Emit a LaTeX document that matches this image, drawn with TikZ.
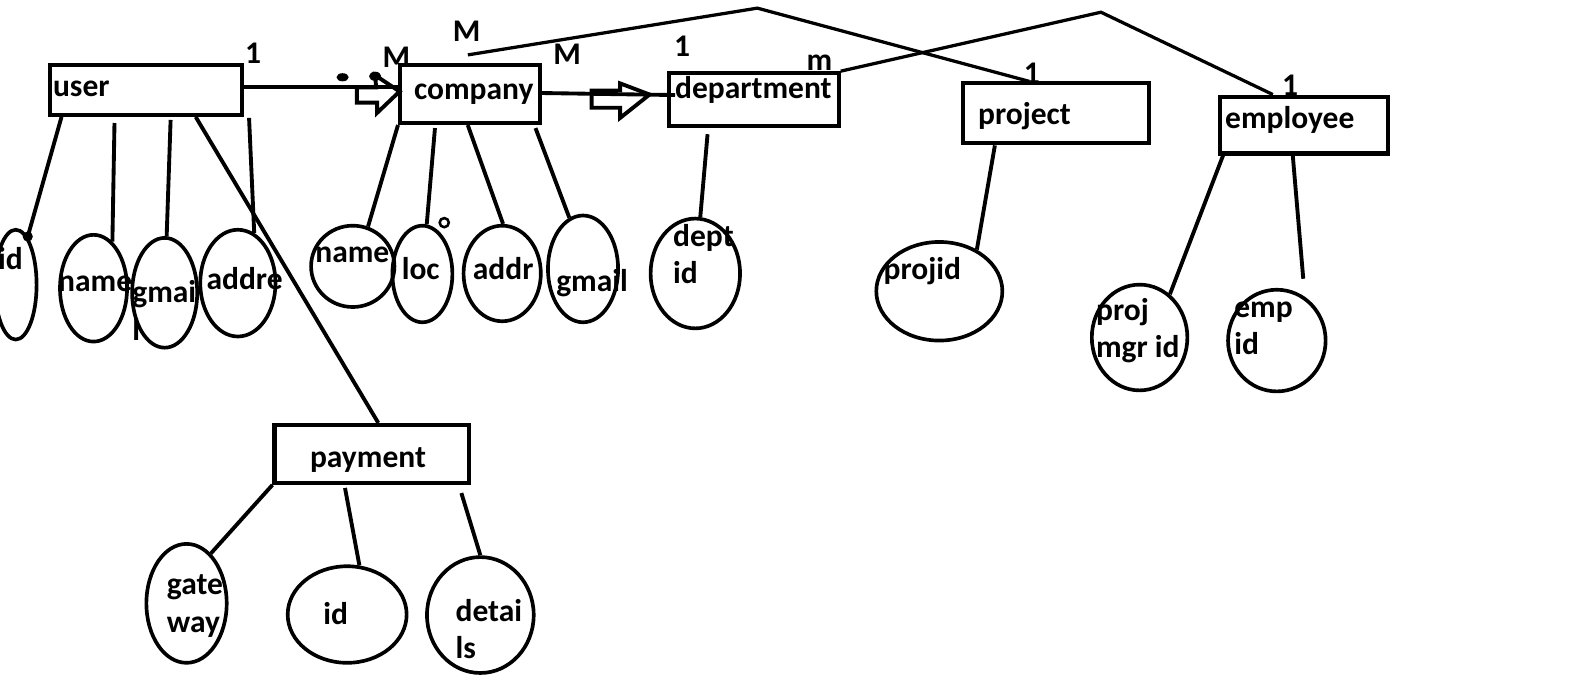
\documentclass[tikz,border=0pt]{standalone}
\usepackage{fontspec}
\setmainfont{Carlito}
\usetikzlibrary{shapes.geometric,calc}
\begin{document}
\begin{tikzpicture}[x=1pt,y=-1pt,
  ent/.style={draw,line width=4pt,rectangle,inner sep=0pt},
  att/.style={draw,ellipse,line width=3.6pt,inner sep=0pt},
  lbl/.style={font=\bfseries\fontsize{31}{37}\selectfont,inner sep=0pt,align=left,anchor=base west},
  card/.style={font=\bfseries\fontsize{31}{37}\selectfont,inner sep=0pt,anchor=base},
  con/.style={line width=3.8pt},
  rel/.style={line width=3.2pt},
  blob/.style={fill,ellipse,inner sep=0pt},
  hollow/.style={line width=3.8pt,line join=miter},
]
\useasboundingbox (0,0) rectangle (1568,673);

% ---------- entities ----------
\node[ent,minimum width=189pt,minimum height=49pt] (user) at (143.5,88.5) {};
\node[ent,minimum width=137.5pt,minimum height=57pt] (company) at (462.25,92.5) {};
\node[ent,minimum width=167pt,minimum height=52pt] (department) at (741.5,98) {};
\node[ent,minimum width=183pt,minimum height=59pt] (project) at (1038.5,111.5) {};
\node[ent,minimum width=165pt,minimum height=56pt] (employee) at (1282.5,123) {};
\node[ent,minimum width=191pt,minimum height=57pt] (payment) at (365.5,446.5) {};

\node[lbl] (userT) at (52,95) {user};
\node[card] (companyT) at (466,98) {company};
\node[lbl] (departmentT) at (664,97) {department};
\node[lbl] (projectT) at (962,122) {project};
\node[lbl] (employeeT) at (1205,126) {employee};
\node[card] (paymentT) at (362,460) {payment};

% ---------- attributes ----------
\node[att,minimum width=41pt,minimum height=108pt] (uid) at (15.5,280) {};
\node[att,minimum width=66pt,minimum height=105pt] (uname) at (92,283.5) {};
\node[att,minimum width=64pt,minimum height=108pt] (ugmail) at (162,288) {};
\node[att,minimum width=74pt,minimum height=105pt] (uaddre) at (234,278.5) {};

\node[att,minimum width=82pt,minimum height=80pt] (cname) at (347,262) {};
\node[att,minimum width=59pt,minimum height=95pt] (cloc) at (415.5,269.5) {};
\node[att,minimum width=76pt,minimum height=94pt] (caddr) at (494,269) {};
\node[att,minimum width=69pt,minimum height=105pt] (cgmail) at (573.5,264.5) {};
\node[draw,circle,line width=2.5pt,minimum size=9pt,inner sep=0pt] (ring) at (437,219) {};

\node[att,minimum width=88pt,minimum height=108pt] (did) at (684,269) {};
\node[att,minimum width=124pt,minimum height=97pt] (pid) at (924,286.5) {};
\node[att,minimum width=94pt,minimum height=104pt] (pmgr) at (1121,332) {};
\node[att,minimum width=96pt,minimum height=100pt] (eid) at (1256,335) {};

\node[att,minimum width=79pt,minimum height=117pt] (gw) at (183.5,593.5) {};
\node[att,minimum width=117pt,minimum height=95pt] (payid) at (341.5,604.5) {};
\node[att,minimum width=105pt,minimum height=114pt] (det) at (472.5,605) {};

% single-line labels sit on their baseline; two-line labels on the baseline of their last line
\node[lbl] (uidT) at (-2,265) {id};
\node[lbl] (unameT) at (57,287) {name};
\node[lbl] (ugmailT) at (130,335) {gmai\\l};
\node[lbl] (uaddreT) at (203,285) {addre};
\node[lbl] (cnameT) at (310,258) {name};
\node[lbl] (clocT) at (395,275) {loc};
\node[lbl] (caddrT) at (465,275) {addr};
\node[lbl] (cgmailT) at (547,287) {gmail};
\node[lbl] (didT) at (662,279) {dept\\id};
\node[lbl] (pmgrT) at (1078,352) {proj\\mgr id};
\node[lbl] (pidT) at (869,275) {projid};
\node[lbl] (eidT) at (1214,349) {emp\\id};
\node[lbl] (gwT) at (164,622) {gate\\way};
\node[lbl] (payidT) at (318,614) {id};
\node[lbl] (detT) at (448,648) {detai\\ls};

% ---------- cardinalities ----------
\node[card] (c1) at (249,62) {1};
\node[card] (c2) at (390,66) {M};
\node[card] (c3) at (459,41) {M};
\node[card] (c4) at (558,63) {M};
\node[card] (c5) at (671,56) {1};
\node[card] (c6) at (806,69) {m};
\node[card] (c7) at (1015,82) {1};
\node[card] (c8) at (1269,94) {1};

% ---------- attribute links ----------
\draw[con] ($(user.south west)!0.07!(user.south east)$) -- (uid.76);
\fill (uid.76) circle (5pt);
\draw[con] ($(user.south west)!0.34!(user.south east)+(0,6)$) -- (uname.68);
\draw[con] ($(user.south west)!0.626!(user.south east)+(0,3)$) -- (ugmail.88);
\draw[con] ($(user.south east)+(5,1)$) -- (uaddre.72);
\draw[con] ($(user.south west)!0.754!(user.south east)$) -- ($(payment.north west)!0.534!(payment.north east)$);

\draw[con] (company.south west) -- (cname.69);
\draw[con] ($(company.south west)!0.257!(company.south east)+(0,3)$) -- (cloc.85);
\draw[con] ($(company.south west)!0.485!(company.south east)$) -- (caddr.89);
\draw[con] ($(company.south west)!0.956!(company.south east)+(0,3)$) -- (cgmail.105);

\draw[con] ($(department.south west)!0.234!(department.south east)+(0,6)$) -- (did.85);
\draw[con] ($(project.south west)!0.18!(project.south east)$) -- (pid.48);
\draw[con] ($(employee.south west)!0.03!(employee.south east)$) -- (pmgr.55);
\coordinate (eidEnd) at ($(eid.north)+(26,-9)$);
\draw[con] ($(employee.south west)!0.436!(employee.south east)$) -- (eidEnd);

\draw[con] (payment.south west) -- (gw.64);
\draw[con] ($(payment.south west)!0.366!(payment.south east)+(0,3)$) -- (payid.76);
\draw[con] ($(payment.south west)!0.953!(payment.south east)+(0,8)$) -- (det.90);

% ---------- relationships ----------
\draw[con] ($(user.east)+(0,-3)$) -- ($(company.west)+(0,-7)$);
\draw[hollow] (351,86) -- (370,86) -- (369,74) -- (393,90) -- (371,111) -- (371,101) -- (351,101) -- cycle;
\node[blob,minimum width=12pt,minimum height=8pt] (b1) at (337,76) {};
\node[blob,minimum width=12pt,minimum height=9pt] (b2) at (369,75) {};

\draw[con] ($(company.east)+(0,-1)$) -- ($(department.west)+(8,-4.5)$);
\draw[hollow] (582,89) -- (610,89) -- (610,82) -- (639,93) -- (610,116) -- (610,106) -- (582,106) -- cycle;

\coordinate (apexA) at (745,8);
\coordinate (apexB) at (1083,12);
\draw[rel] ($(company.north)+(-2,-8)$) -- (apexA) -- ($(project.north west)!0.36!(project.north east)$);
\draw[rel] (department.north east) -- (apexB) -- ($(employee.north west)!0.32!(employee.north east)$);
\end{tikzpicture}
\end{document}
